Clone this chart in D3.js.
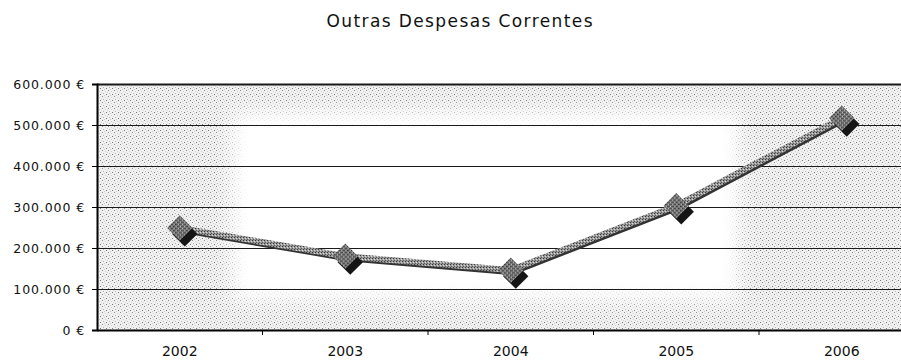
<!DOCTYPE html>
<html>
<head>
<meta charset="utf-8">
<script src="https://cdnjs.cloudflare.com/ajax/libs/d3/7.8.5/d3.min.js"></script>
<style>
  html, body { margin: 0; padding: 0; background: #fff; }
  svg { display: block; }
  text { font-family: "DejaVu Sans", sans-serif; fill: #111; }
</style>
</head>
<body>
<svg id="chart" width="901" height="360"></svg>
<script>
// Outras Despesas Correntes, 2002–2006 (euros)
const titleText = "Outras Despesas Correntes";
const years = ["2002", "2003", "2004", "2005", "2006"];
const values = [249000, 180000, 146000, 303000, 517000];
const yTicks = [0, 100000, 200000, 300000, 400000, 500000, 600000];

const W = 901, H = 360;
const margin = { left: 97, top: 84, bottom: 330 };
const plotRight = 924.5; // the plot area runs slightly past the right edge

const svg = d3.select("#chart");
const defs = svg.append("defs");

// grainy stipple fill for the plot background
const pat = defs.append("pattern")
  .attr("id", "stipple").attr("patternUnits", "userSpaceOnUse")
  .attr("width", 6).attr("height", 6);
pat.append("rect").attr("width", 6).attr("height", 6).attr("fill", "#f1f1f1");
[[0,0,"#8a8a8a"],[3,1,"#cfcfcf"],[1,3,"#b4b4b4"],[4,4,"#777"],[5,2,"#d6d6d6"],[2,5,"#c8c8c8"]]
  .forEach(([x, y, c]) => pat.append("rect").attr("x", x).attr("y", y)
    .attr("width", 1).attr("height", 1).attr("fill", c));

// texture used on the series line and markers
const lp = defs.append("pattern")
  .attr("id", "lineTex").attr("patternUnits", "userSpaceOnUse")
  .attr("width", 3).attr("height", 3);
lp.append("rect").attr("width", 3).attr("height", 3).attr("fill", "#9a9a9a");
lp.append("rect").attr("x", 0).attr("y", 0).attr("width", 1).attr("height", 1).attr("fill", "#3a3a3a");
lp.append("rect").attr("x", 2).attr("y", 1).attr("width", 1).attr("height", 1).attr("fill", "#d8d8d8");
lp.append("rect").attr("x", 1).attr("y", 2).attr("width", 1).attr("height", 1).attr("fill", "#5a5a5a");

const mp = defs.append("pattern")
  .attr("id", "markTex").attr("patternUnits", "userSpaceOnUse")
  .attr("width", 3).attr("height", 3);
mp.append("rect").attr("width", 3).attr("height", 3).attr("fill", "#7a7a7a");
mp.append("rect").attr("x", 0).attr("y", 0).attr("width", 1).attr("height", 1).attr("fill", "#2a2a2a");
mp.append("rect").attr("x", 2).attr("y", 1).attr("width", 1).attr("height", 1).attr("fill", "#bdbdbd");
mp.append("rect").attr("x", 1).attr("y", 2).attr("width", 1).attr("height", 1).attr("fill", "#444");

defs.append("filter").attr("id", "soft")
  .attr("x", "-20%").attr("y", "-40%").attr("width", "140%").attr("height", "180%")
  .append("feGaussianBlur").attr("stdDeviation", 9);

const x = d3.scaleBand().domain(years).range([margin.left, plotRight]).padding(0);
const y = d3.scaleLinear().domain([0, 600000]).range([margin.bottom, margin.top]);

// plot background
svg.append("rect")
  .attr("x", margin.left).attr("y", margin.top)
  .attr("width", plotRight - margin.left).attr("height", margin.bottom - margin.top)
  .attr("fill", "url(#stipple)");
// lighter centre of the background fill
svg.append("rect")
  .attr("x", x("2002") + 135).attr("y", y(530000))
  .attr("width", x("2006") - x("2002") - 135 - 20).attr("height", y(75000) - y(530000))
  .attr("fill", "#fff").attr("filter", "url(#soft)");

// horizontal gridlines
svg.append("g").selectAll("line").data(yTicks).join("line")
  .attr("x1", margin.left).attr("x2", plotRight)
  .attr("y1", d => Math.round(y(d)) + 0.5).attr("y2", d => Math.round(y(d)) + 0.5)
  .attr("stroke", "#1a1a1a")
  .attr("stroke-width", d => d === 600000 ? 2 : 1);

// y axis
const ptFormat = d3.formatLocale({ decimal: ",", thousands: ".", grouping: [3], currency: ["", " €"] }).format("$,.0f");
const yAxis = svg.append("g")
  .attr("transform", `translate(${margin.left},0)`)
  .call(d3.axisLeft(y).tickValues(yTicks).tickSize(5).tickPadding(7).tickFormat(ptFormat));
yAxis.select(".domain").attr("stroke", "#000").attr("stroke-width", 2);
yAxis.selectAll(".tick line").attr("stroke", "#000");
yAxis.selectAll("text")
  .style("font-family", "'DejaVu Sans', sans-serif")
  .style("font-size", "12.5px").style("letter-spacing", "0.9px").attr("fill", "#222");

// x axis
const xAxis = svg.append("g")
  .attr("transform", `translate(0,${margin.bottom})`)
  .call(d3.axisBottom(x).tickSize(0).tickPadding(16));
xAxis.select(".domain").attr("stroke", "#000").attr("stroke-width", 2);
xAxis.selectAll("text")
  .style("font-family", "'DejaVu Sans', sans-serif")
  .style("font-size", "14px").attr("fill", "#222");
// category boundary ticks
svg.append("g").selectAll("line").data(years.slice(1)).join("line")
  .attr("x1", d => x(d)).attr("x2", d => x(d))
  .attr("y1", margin.bottom).attr("y2", margin.bottom + 5)
  .attr("stroke", "#000").attr("stroke-width", 1);

// series line with drop shadow
const pts = years.map((yr, i) => [x(yr) + x.bandwidth() / 2, y(values[i])]);
const line = d3.line();
svg.append("path").attr("d", line(pts.map(([a, b]) => [a + 1.5, b + 2])))
  .attr("fill", "none").attr("stroke", "#333").attr("stroke-width", 6)
  .attr("stroke-linejoin", "round");
svg.append("path").attr("d", line(pts))
  .attr("fill", "none").attr("stroke", "url(#lineTex)").attr("stroke-width", 6)
  .attr("stroke-linejoin", "round");

// diamond markers with shadow
const diamond = d3.symbol().type(d3.symbolSquare).size(320);
const mk = svg.append("g");
mk.selectAll(".shadow").data(pts).join("path")
  .attr("class", "shadow")
  .attr("d", diamond)
  .attr("transform", ([a, b]) => `translate(${a + 5},${b + 6}) rotate(45)`)
  .attr("fill", "#151515");
mk.selectAll(".mark").data(pts).join("path")
  .attr("class", "mark")
  .attr("d", diamond)
  .attr("transform", ([a, b]) => `translate(${a},${b}) rotate(45)`)
  .attr("fill", "url(#markTex)");

// title
svg.append("text")
  .attr("x", 459.5).attr("y", 27)
  .attr("text-anchor", "middle")
  .attr("textLength", 266).attr("lengthAdjust", "spacing")
  .style("font-size", "17px")
  .text(titleText);
</script>
</body>
</html>
